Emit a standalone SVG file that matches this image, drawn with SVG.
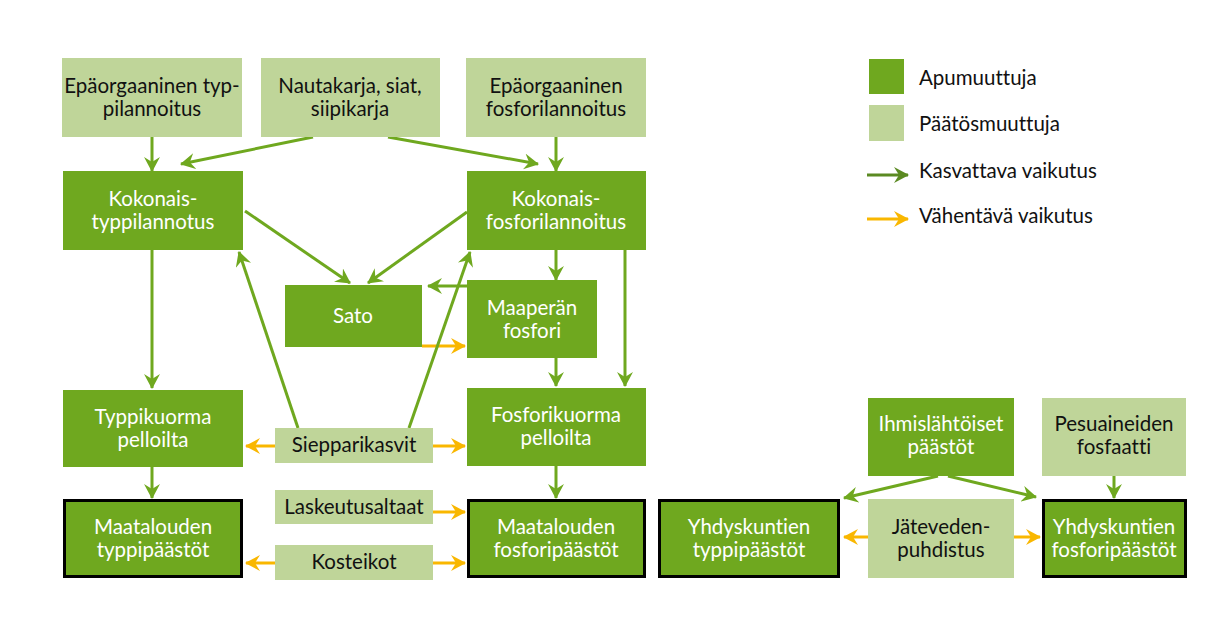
<svg xmlns="http://www.w3.org/2000/svg" width="1226" height="634" viewBox="0 0 1226 634">
<defs>
<style>
.d{fill:#6fa81f}
.l{fill:#bfd599}
.k{stroke:#000;stroke-width:3}
text{font-family:Lato,"Open Sans","Liberation Sans",sans-serif;font-size:20.5px;text-anchor:middle;font-variant-ligatures:none}
.w{fill:#fff}
.b{fill:#111}
.lg{text-anchor:start}
.g{stroke:#6fa81f;stroke-width:3;fill:none;marker-end:url(#ag)}
.o{stroke:#f9b700;stroke-width:3;fill:none;marker-end:url(#ao)}
</style>
<marker id="ag" viewBox="0 -8 15 16" refX="14" refY="0" markerWidth="15" markerHeight="16" markerUnits="userSpaceOnUse" orient="auto"><path d="M0,-8 L15,0 L0,8 L5,0 Z" fill="#6fa81f"/></marker>
<marker id="ao" viewBox="0 -8 15 16" refX="14" refY="0" markerWidth="15" markerHeight="16" markerUnits="userSpaceOnUse" orient="auto"><path d="M0,-8 L15,0 L0,8 L5,0 Z" fill="#f9b700"/></marker>
<marker id="agl" viewBox="0 -8 15 16" refX="14" refY="0" markerWidth="15" markerHeight="16" markerUnits="userSpaceOnUse" orient="auto"><path d="M0,-8 L15,0 L0,8 L5,0 Z" fill="#5b8a22"/></marker>
</defs>
<rect width="1226" height="634" fill="#fff"/>
<g id="connectors">
<path class="g" d="M152,137 L152,171"/>
<path class="g" d="M313,137 L181,164"/>
<path class="g" d="M388,137 L538,164"/>
<path class="g" d="M556,137 L556,171"/>
<path class="g" d="M245,211 L350,283"/>
<path class="g" d="M467,212 L368,283"/>
<path class="g" d="M152,250 L152,388"/>
<path class="g" d="M556,250 L556,280"/>
<path class="g" d="M625,250 L625,386"/>
<path class="g" d="M467,286 L428,286"/>
<path class="o" d="M422,346 L465,346"/>
<path class="g" d="M556,358 L556,386"/>
<path class="g" d="M298,428 L239,252"/>
<path class="g" d="M409,428 L470,252"/>
<path class="o" d="M275,446 L246,446"/>
<path class="o" d="M433,446 L465,446"/>
<path class="g" d="M152,467 L152,498"/>
<path class="g" d="M556,466 L556,498"/>
<path class="o" d="M433,512 L465,512"/>
<path class="o" d="M275,563 L246,563"/>
<path class="o" d="M433,563 L465,563"/>
<path class="g" d="M938,476 L844,498"/>
<path class="g" d="M948,476 L1036,497"/>
<path class="g" d="M1114,476 L1114,498"/>
<path class="o" d="M868,537 L844,537"/>
<path class="o" d="M1014,537 L1040,537"/>
</g>
<g id="n1"><rect class="l" x="62" y="58" width="180" height="79"/><text class="b" x="152" y="93">Epäorgaaninen typ-</text><text class="b" x="152" y="116">pilannoitus</text></g>
<g id="n2"><rect class="l" x="261" y="58" width="179" height="79"/><text class="b" x="350" y="93">Nautakarja, siat,</text><text class="b" x="350" y="116">siipikarja</text></g>
<g id="n3"><rect class="l" x="466" y="58" width="180" height="79"/><text class="b" x="556" y="93">Epäorgaaninen</text><text class="b" x="556" y="116">fosforilannoitus</text></g>
<g id="n4"><rect class="d" x="63" y="171" width="180" height="79"/><text class="w" x="153" y="206">Kokonais-</text><text class="w" x="153" y="229">typpilannotus</text></g>
<g id="n5"><rect class="d" x="467" y="171" width="179" height="79"/><text class="w" x="556" y="206">Kokonais-</text><text class="w" x="556" y="229">fosforilannoitus</text></g>
<g id="n6"><rect class="d" x="285" y="285" width="137" height="62"/><text class="w" x="353" y="323">Sato</text></g>
<g id="n7"><rect class="d" x="467" y="280" width="130" height="78"/><text class="w" x="532" y="315">Maaperän</text><text class="w" x="532" y="338">fosfori</text></g>
<g id="n8"><rect class="d" x="63" y="390" width="180" height="77"/><text class="w" x="153" y="424">Typpikuorma</text><text class="w" x="153" y="447">pelloilta</text></g>
<g id="n9"><rect class="d" x="467" y="388" width="179" height="78"/><text class="w" x="556" y="422">Fosforikuorma</text><text class="w" x="556" y="445">pelloilta</text></g>
<g id="n10"><rect class="l" x="275" y="428" width="158" height="35"/><text class="b" x="354" y="452">Siepparikasvit</text></g>
<g id="n11"><rect class="l" x="275" y="490" width="158" height="34"/><text class="b" x="354" y="514">Laskeutusaltaat</text></g>
<g id="n12"><rect class="l" x="275" y="545" width="158" height="35"/><text class="b" x="354" y="569">Kosteikot</text></g>
<g id="n13"><rect class="d k" x="64.5" y="500.5" width="177" height="76"/><text class="w" x="153" y="534">Maatalouden</text><text class="w" x="153" y="557">typpipäästöt</text></g>
<g id="n14"><rect class="d k" x="468.5" y="500.5" width="176" height="76"/><text class="w" x="556" y="534">Maatalouden</text><text class="w" x="556" y="557">fosforipäästöt</text></g>
<g id="n15"><rect class="d k" x="659.5" y="500.5" width="179" height="76"/><text class="w" x="749" y="534">Yhdyskuntien</text><text class="w" x="749" y="557">typpipäästöt</text></g>
<g id="n16"><rect class="l" x="868" y="499" width="146" height="79"/><text class="b" x="941" y="534">Jäteveden-</text><text class="b" x="941" y="557">puhdistus</text></g>
<g id="n17"><rect class="d k" x="1043.5" y="500.5" width="142" height="76"/><text class="w" x="1114" y="534">Yhdyskuntien</text><text class="w" x="1114" y="557">fosforipäästöt</text></g>
<g id="n18"><rect class="d" x="868" y="398" width="146" height="78"/><text class="w" x="941" y="431">Ihmislähtöiset</text><text class="w" x="941" y="454">päästöt</text></g>
<g id="n19"><rect class="l" x="1042" y="398" width="144" height="78"/><text class="b" x="1114" y="431">Pesuaineiden</text><text class="b" x="1114" y="454">fosfaatti</text></g>
<g id="legend">
<rect class="d" x="869" y="59" width="35" height="35"/>
<text class="b lg" x="919" y="85">Apumuuttuja</text>
<rect class="l" x="869" y="105" width="35" height="36"/>
<text class="b lg" x="919" y="131">Päätösmuuttuja</text>
<path d="M867,175 L908,175" stroke="#5b8a22" stroke-width="3" marker-end="url(#agl)"/>
<text class="b lg" x="919" y="178">Kasvattava vaikutus</text>
<path d="M867,219 L908,219" stroke="#f9b700" stroke-width="3" marker-end="url(#ao)"/>
<text class="b lg" x="919" y="223">Vähentävä vaikutus</text>
</g>
</svg>
